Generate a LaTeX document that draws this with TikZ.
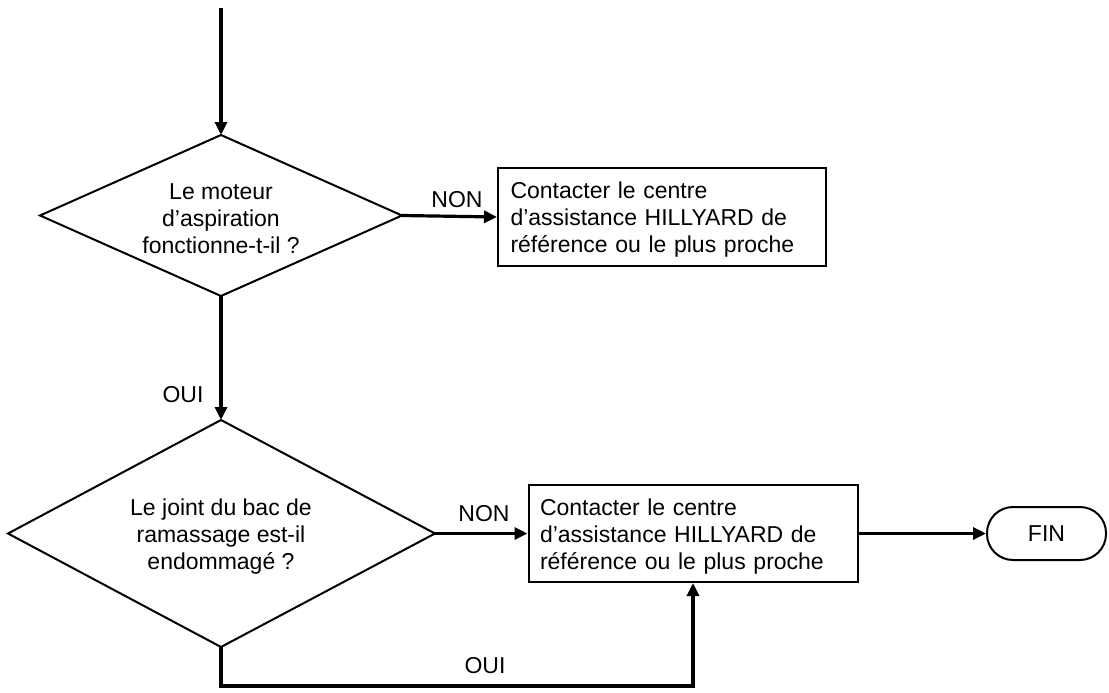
\documentclass[tikz,border=0pt]{standalone}
\usepackage{fontspec}
\setmainfont{Liberation Sans}
\usetikzlibrary{arrows.meta}
\begin{document}
\begin{tikzpicture}[x=1pt,y=-1pt,
  every node/.style={font=\fontsize{23pt}{27pt}\selectfont},
  shapeline/.style={draw,line width=2pt},
  decisiontext/.style={align=center,inner sep=0pt},
  actbox/.style={rectangle,draw,line width=2pt,minimum width=328pt,minimum height=98pt},
  boxtext/.style={align=left,inner sep=0pt,text width=304pt},
  term/.style={rectangle,draw,line width=2pt,rounded corners=26pt,minimum width=119pt,minimum height=53pt},
  conn/.style={line width=3.2pt,-{Triangle[length=13pt,width=12pt]}},
  lbl/.style={inner sep=0pt}]
\useasboundingbox (0,0) rectangle (1109,693);
\coordinate (start) at (221,8);
% decision 1
\coordinate (d1n) at (221,135);
\coordinate (d1s) at (221,296);
\coordinate (d1w) at (40,215.5);
\coordinate (d1e) at (402,215.5);
\draw[shapeline,line join=miter] (d1n) -- (d1e) -- (d1s) -- (d1w) -- cycle;
\node[decisiontext] (d1t) at (221,219) {Le moteur\\d’aspiration\\fonctionne-t-il ?};
% box 1
\node[actbox] (b1) at (662,217) {};
\node[boxtext] (b1t) at (662.5,220) {Contacter le centre d’assistance HILLYARD de référence ou le plus proche};
% decision 2
\coordinate (d2n) at (221,420);
\coordinate (d2s) at (221,647);
\coordinate (d2w) at (8,533.5);
\coordinate (d2e) at (435,533.5);
\draw[shapeline,line join=miter] (d2n) -- (d2e) -- (d2s) -- (d2w) -- cycle;
\node[decisiontext] (d2t) at (221,537) {Le joint du bac de\\ramassage est-il\\endommagé ?};
% box 2
\node[actbox,minimum width=329pt,minimum height=97pt] (b2) at (693,533.5) {};
\node[boxtext] (b2t) at (692,537) {Contacter le centre d’assistance HILLYARD de référence ou le plus proche};
% terminal
\node[term] (fin) at (1046.5,533.5) {FIN};
\coordinate (corner) at (221,686);
\draw[conn] (start) -- (d1n);
\draw[conn] (d1e) -- (b1.west);
\draw[conn] (d1s) -- (d2n);
\draw[conn] (d2e) -- (b2.west);
\draw[conn] (b2.east) -- (fin.west);
\draw[conn] (d2s) -- (corner) -| (b2.south);
\node[lbl] (non1) at (457,200) {NON};
\node[lbl] (oui1) at (183,395) {OUI};
\node[lbl] (non2) at (484,514) {NON};
\node[lbl] (oui2) at (485,666) {OUI};
\end{tikzpicture}
\end{document}
